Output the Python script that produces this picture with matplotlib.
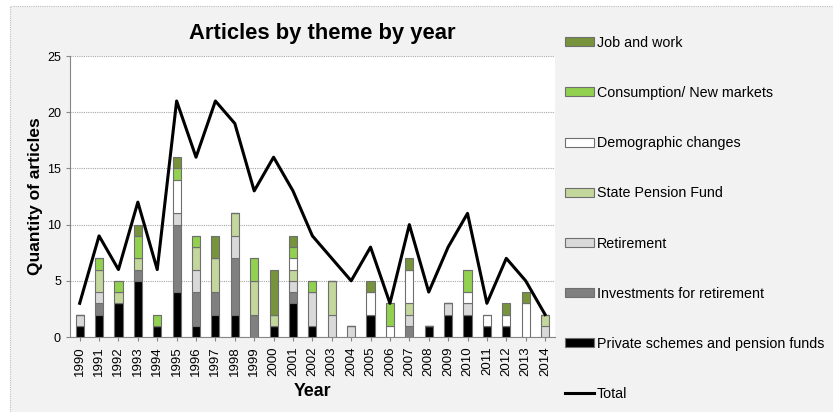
import numpy as np
import matplotlib
matplotlib.use('Agg')
import matplotlib.pyplot as plt
from matplotlib.patches import Patch, Rectangle
from matplotlib.lines import Line2D

plt.rcParams['font.family'] = ['Liberation Sans', 'DejaVu Sans']

years = [str(y) for y in range(1990, 2015)]

# stacked series, bottom to top
private = [1, 2, 3, 5, 1, 4, 1, 2, 2, 0, 1, 3, 1, 0, 0, 2, 0, 0, 1, 2, 2, 1, 1, 0, 0]
investments = [0, 1, 0, 1, 0, 6, 3, 2, 5, 2, 0, 1, 0, 0, 0, 0, 0, 1, 0, 0, 0, 0, 0, 0, 0]
retirement = [1, 1, 0, 0, 0, 1, 2, 0, 2, 0, 0, 1, 3, 2, 1, 0, 0, 1, 0, 1, 1, 0, 0, 0, 1]
state_pension = [0, 2, 1, 1, 0, 0, 2, 3, 2, 3, 1, 1, 0, 3, 0, 0, 0, 1, 0, 0, 0, 0, 0, 0, 1]
demographic = [0, 0, 0, 0, 0, 3, 0, 0, 0, 0, 0, 1, 0, 0, 0, 2, 1, 3, 0, 0, 1, 1, 1, 3, 0]
consumption = [0, 1, 1, 2, 1, 1, 1, 0, 0, 2, 0, 1, 1, 0, 0, 0, 2, 0, 0, 0, 2, 0, 0, 0, 0]
job_work = [0, 0, 0, 1, 0, 1, 0, 2, 0, 0, 4, 1, 0, 0, 0, 1, 0, 1, 0, 0, 0, 0, 1, 1, 0]
total = [3, 9, 6, 12, 6, 21, 16, 21, 19, 13, 16, 13, 9, 7, 5, 8, 3, 10, 4, 8, 11, 3, 7, 5, 2]

series = [
    ('Private schemes and pension funds', private, '#000000'),
    ('Investments for retirement', investments, '#808080'),
    ('Retirement', retirement, '#d9d9d9'),
    ('State Pension Fund', state_pension, '#c3d69b'),
    ('Demographic changes', demographic, '#ffffff'),
    ('Consumption/ New markets', consumption, '#92d050'),
    ('Job and work', job_work, '#77933c'),
]

fig = plt.figure(figsize=(8.33, 4.12), dpi=100)
fig.patch.set_facecolor('white')
# chart area frame (runs off the right and bottom edges)
fig.patches.append(Rectangle((10 / 833, -0.05), 1.0, (412 - 6) / 412 + 0.05,
                             transform=fig.transFigure, facecolor='#f2f2f2',
                             edgecolor='#bdbdbd', linewidth=0.8, linestyle=(0, (1, 1)), zorder=-10))

ax = fig.add_axes([0.084, 0.182, 0.582, 0.682])
ax.set_facecolor('white')

x = np.arange(len(years))
bottom = np.zeros(len(years))
handles = []
for name, vals, col in series:
    v = np.array(vals)
    ax.bar(x, v, 0.42, bottom=bottom, color=col, edgecolor='#6f6f6f', linewidth=0.8, zorder=3)
    bottom += v
    handles.append(Patch(facecolor=col, edgecolor='#6f6f6f', linewidth=0.8, label=name))

ax.plot(x, total, color='black', linewidth=2.2, zorder=4)

ax.set_xlim(-0.5, len(years) - 0.5)
ax.set_ylim(0, 25)
ax.set_yticks(range(0, 26, 5))
ax.set_xticks(x)
ax.set_xticklabels(years, rotation=90, fontsize=9.5)
ax.tick_params(axis='y', labelsize=9, length=3, color='#868686')
ax.tick_params(axis='x', length=3, color='#868686')
ax.grid(axis='y', linestyle=(0, (1, 1)), color='#a6a6a6', linewidth=0.8, zorder=0)
for s in ['top', 'right']:
    ax.spines[s].set_visible(False)
ax.spines['left'].set_color('#868686')
ax.spines['bottom'].set_color('#868686')

ax.set_title('Articles by theme by year', fontsize=15.8, fontweight='bold', pad=12, x=0.52)
ax.set_xlabel('Year', fontsize=12.8, fontweight='bold', labelpad=5)
ax.set_ylabel('Quantity of articles', fontsize=12.5, fontweight='bold', labelpad=3)

handles = handles[::-1] + [Line2D([0], [0], color='black', linewidth=2.2, label='Total')]
fig.legend(handles=handles, loc='upper left', bbox_to_anchor=(0.672, 0.927), frameon=False,
           fontsize=10.3, labelspacing=2.53, handlelength=2.0, handleheight=0.6, handletextpad=0.2,
           borderaxespad=0)

fig.savefig('out.png', dpi=100, facecolor=fig.get_facecolor())
